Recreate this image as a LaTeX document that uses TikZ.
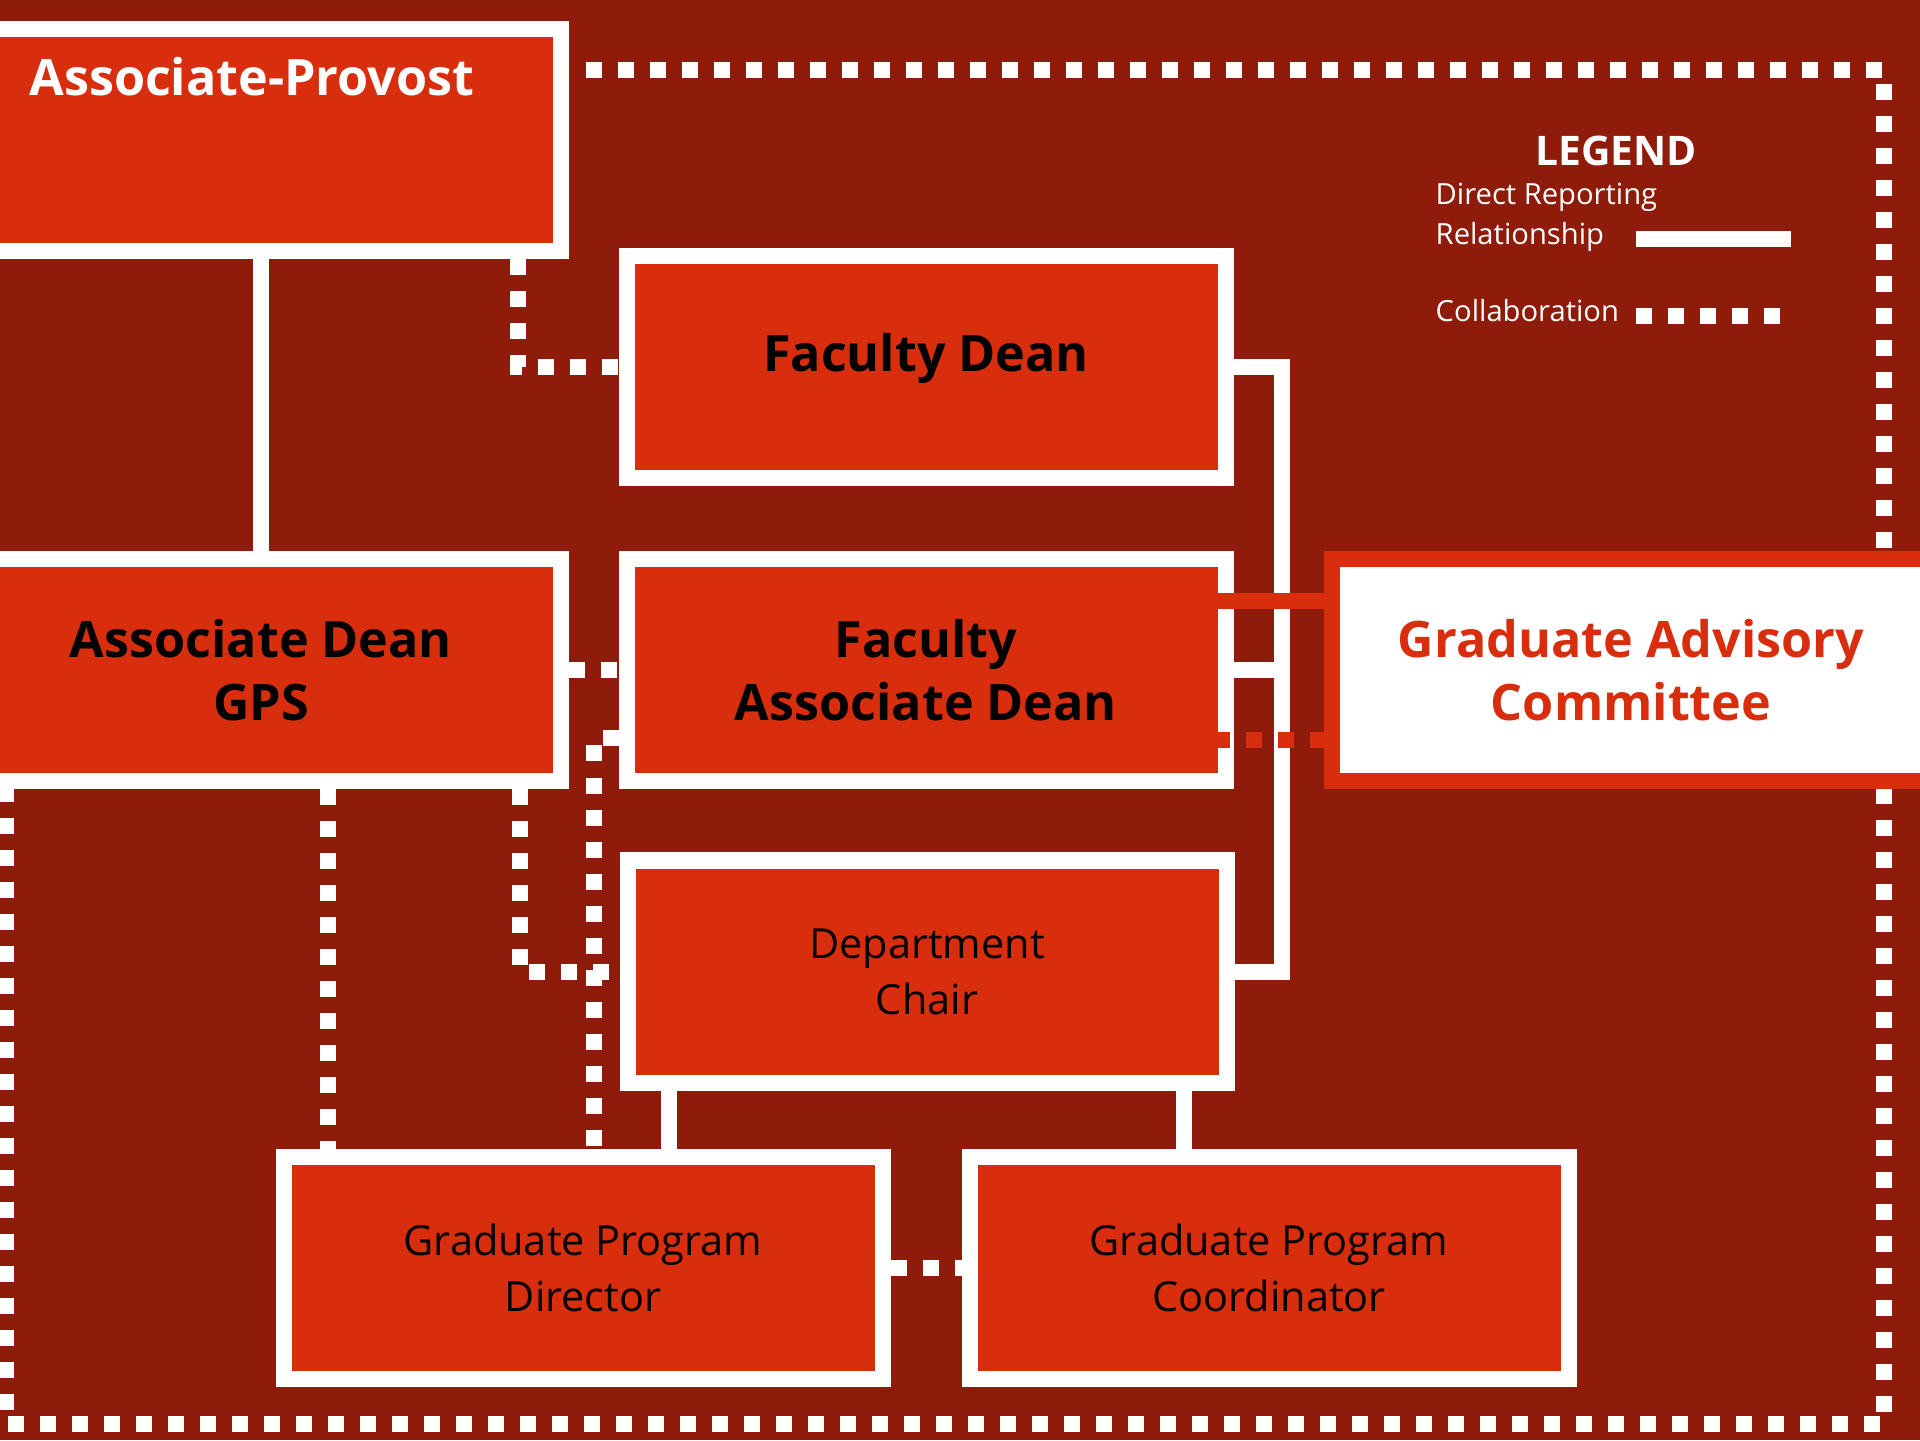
\documentclass[tikz,border=0pt]{standalone}
\usepackage{fontspec}
\setmainfont{Open Sans}
\usetikzlibrary{calc, backgrounds}
\definecolor{bgred}{HTML}{8F1C0A}
\definecolor{boxred}{HTML}{D92E0E}

\begin{document}
\begin{tikzpicture}[
	box/.style = {draw=white, line width=0.16cm, fill=boxred, minimum width=5.99cm, minimum height=2.22cm, inner sep=0pt, align=center},
	boldtext/.style = {font=\fontsize{14.3}{17.9}\selectfont\bfseries},
	plaintext/.style = {font=\fontsize{11.8}{15.9}\selectfont},
	legendtext/.style = {font=\fontsize{8.3}{11.4}\selectfont, text=white, inner sep=0pt},
	report/.style = {draw=white, line width=0.16cm},
	collab/.style = {report, dash pattern=on 0.16cm off 0.16cm},
	]
	\useasboundingbox (0,0) rectangle (19.2,14.4);
	%%%	Riquadri
	\node[box] (AP) at (2.61,13.00) {};
	\node[anchor=base west, text=white, boldtext] (APtext) at (0.17,13.44) {Associate-Provost};
	\node[box, boldtext] (GPS) at (2.61,7.70) {Associate Dean\\GPS};
	\node[box, boldtext, text depth=0.30cm] (FD) at (9.26,10.73) {Faculty Dean};
	\node[box, boldtext] (FAD) at (9.26,7.70) {Faculty\\Associate Dean};
	\node[box, plaintext] (DC) at (9.27,4.685) {Department\\Chair};
	\node[box, plaintext] (GPD) at (5.83,1.72) {Graduate Program\\Director};
	\node[box, plaintext] (GPC) at (12.69,1.72) {Graduate Program\\Coordinator};
	\node[box, boldtext, fill=white, draw=boxred, text=boxred] (GAC) at (16.31,7.70) {Graduate Advisory\\Committee};
	%%%	Legenda
	\node[text=white, font=\fontsize{11.6}{14}\selectfont\bfseries] (LEG) at (16.16,12.89) {LEGEND};
	\node[legendtext, anchor=west, align=left] (DRR) at (14.35,12.23) {Direct Reporting\\Relationship};
	\node[legendtext, anchor=west] (COL) at (14.35,11.29) {Collaboration};
	\coordinate (ls1) at (16.36,12.01);
	\coordinate (ls2) at (17.91,12.01);
	\coordinate (lc1) at (16.36,11.24);
	\coordinate (lc2) at (17.80,11.24);
	\draw[report] (ls1) -- (ls2);
	\draw[collab] (lc1) -- (lc2);
	%%%	Sfondo e cornice
	\coordinate (ftr) at (18.84,13.70);
	\coordinate (fbl) at (0.06,0.16);
	\begin{scope}[on background layer]
		\fill[bgred] (0,0) rectangle (19.2,14.4);
		\draw[collab] ($(AP.east |- ftr)+(0.17,0)$) -- (ftr) -- (ftr |- fbl) -- (fbl) -- (fbl |- GPS.south);
	\end{scope}
	% Linee dirette
	\draw[report] (AP) -- (GPS);
	\draw[report] (FD.east) -- ++(0.48,0) |- (DC.east);
	\draw[report] (FAD.east) -- ++(0.48,0);
	\draw[report] ($(DC.south)+(-2.58,0)$) coordinate (d1) -- (d1 |- GPD.north);
	\draw[report] ($(DC.south)+(2.57,0)$) coordinate (d2) -- (d2 |- GPC.north);
	% Collaborazioni
	\draw[collab] (AP.south east) ++(-0.51,0) |- (FD.west);
	\draw[collab] (GPS) -- (FAD);
	\draw[collab] ($(FAD.west)+(0,-0.68)$) -| ($(GPD.north)+(0.11,0)$);
	\draw[collab] (GPS.south east) ++(-0.49,0) |- (DC.west);
	\draw[collab] ($(GPS.south)+(0.67,0)$) coordinate (g1) -- (g1 |- GPD.north);
	\draw[collab] (GPD) -- (GPC);
	% Comitato
	\draw[report, draw=boxred] ($(FAD.east)+(-0.16,0.69)$) -- ($(GAC.west)+(0,0.69)$);
	\draw[collab, draw=boxred] ($(FAD.east)+(-0.20,-0.70)$) -- ($(GAC.west)+(0,-0.70)$);
\end{tikzpicture}
\end{document}
